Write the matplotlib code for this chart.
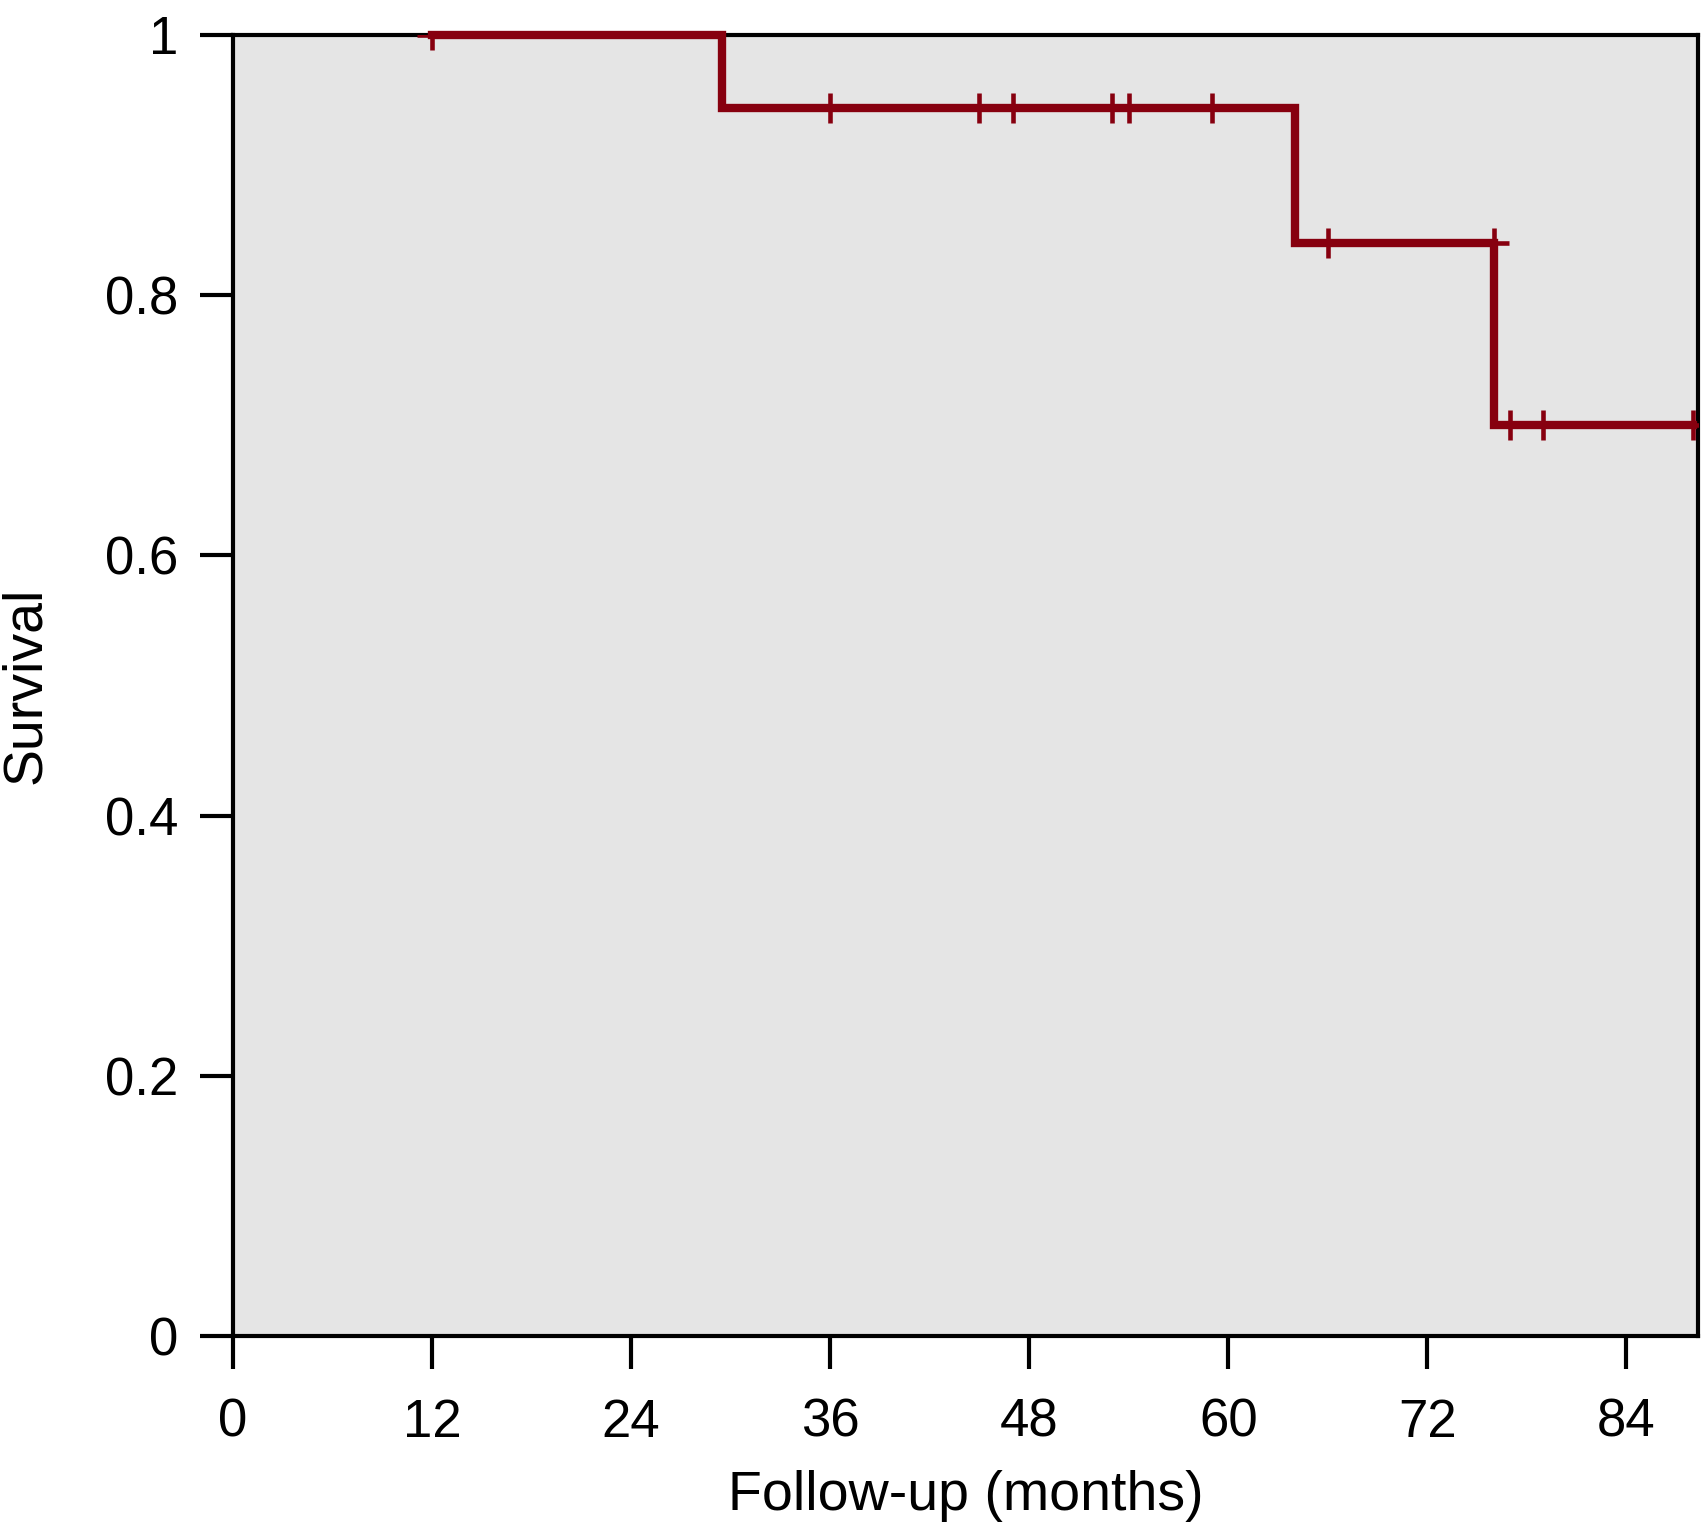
import matplotlib
matplotlib.use("Agg")
import matplotlib.pyplot as plt

# Kaplan-Meier steps
step_times = [12, 29.5, 64, 76, 88]
step_surv = [1.0, 0.944, 0.840, 0.700, 0.700]

# censored observations (months) and the survival level they sit on
censor_times = [12, 36, 45, 47, 53, 54, 59, 66, 76, 77, 79, 88]
censor_surv = [1.0, 0.944, 0.944, 0.944, 0.944, 0.944, 0.944, 0.840, 0.840, 0.700, 0.700, 0.700]

x_ticks = [0, 12, 24, 36, 48, 60, 72, 84]
y_ticks = [0, 0.2, 0.4, 0.6, 0.8, 1.0]
y_labels = ["0", "0.2", "0.4", "0.6", "0.8", "1"]

red = "#87000f"

plt.rcParams["font.family"] = ["Liberation Sans", "DejaVu Sans"]

fig = plt.figure(figsize=(17.01, 15.28), dpi=100)
ax = fig.add_axes([0.137, 0.1257, 0.861, 0.8514])
ax.set_facecolor("#e5e5e5")

ax.step(step_times, step_surv, where="post", color=red, lw=6,
        solid_joinstyle="miter", clip_on=False, zorder=5)
ax.plot(censor_times, censor_surv, ls="none", marker="+", ms=22,
        mew=3.3, color=red, zorder=6)

ax.set_xlim(0, 88.3)
ax.set_ylim(0, 1)
ax.set_xticks(x_ticks)
ax.set_yticks(y_ticks)
ax.set_yticklabels(y_labels)

for s in ax.spines.values():
    s.set_linewidth(3)
ax.tick_params(direction="out", length=23.5, width=3, labelsize=38)
ax.tick_params(axis="x", pad=21)
ax.tick_params(axis="y", pad=16)

ax.set_xlabel("Follow-up (months)", fontsize=40, labelpad=16)
ax.set_ylabel("Survival", fontsize=40, labelpad=38)

fig.savefig("out.png", dpi=100)
